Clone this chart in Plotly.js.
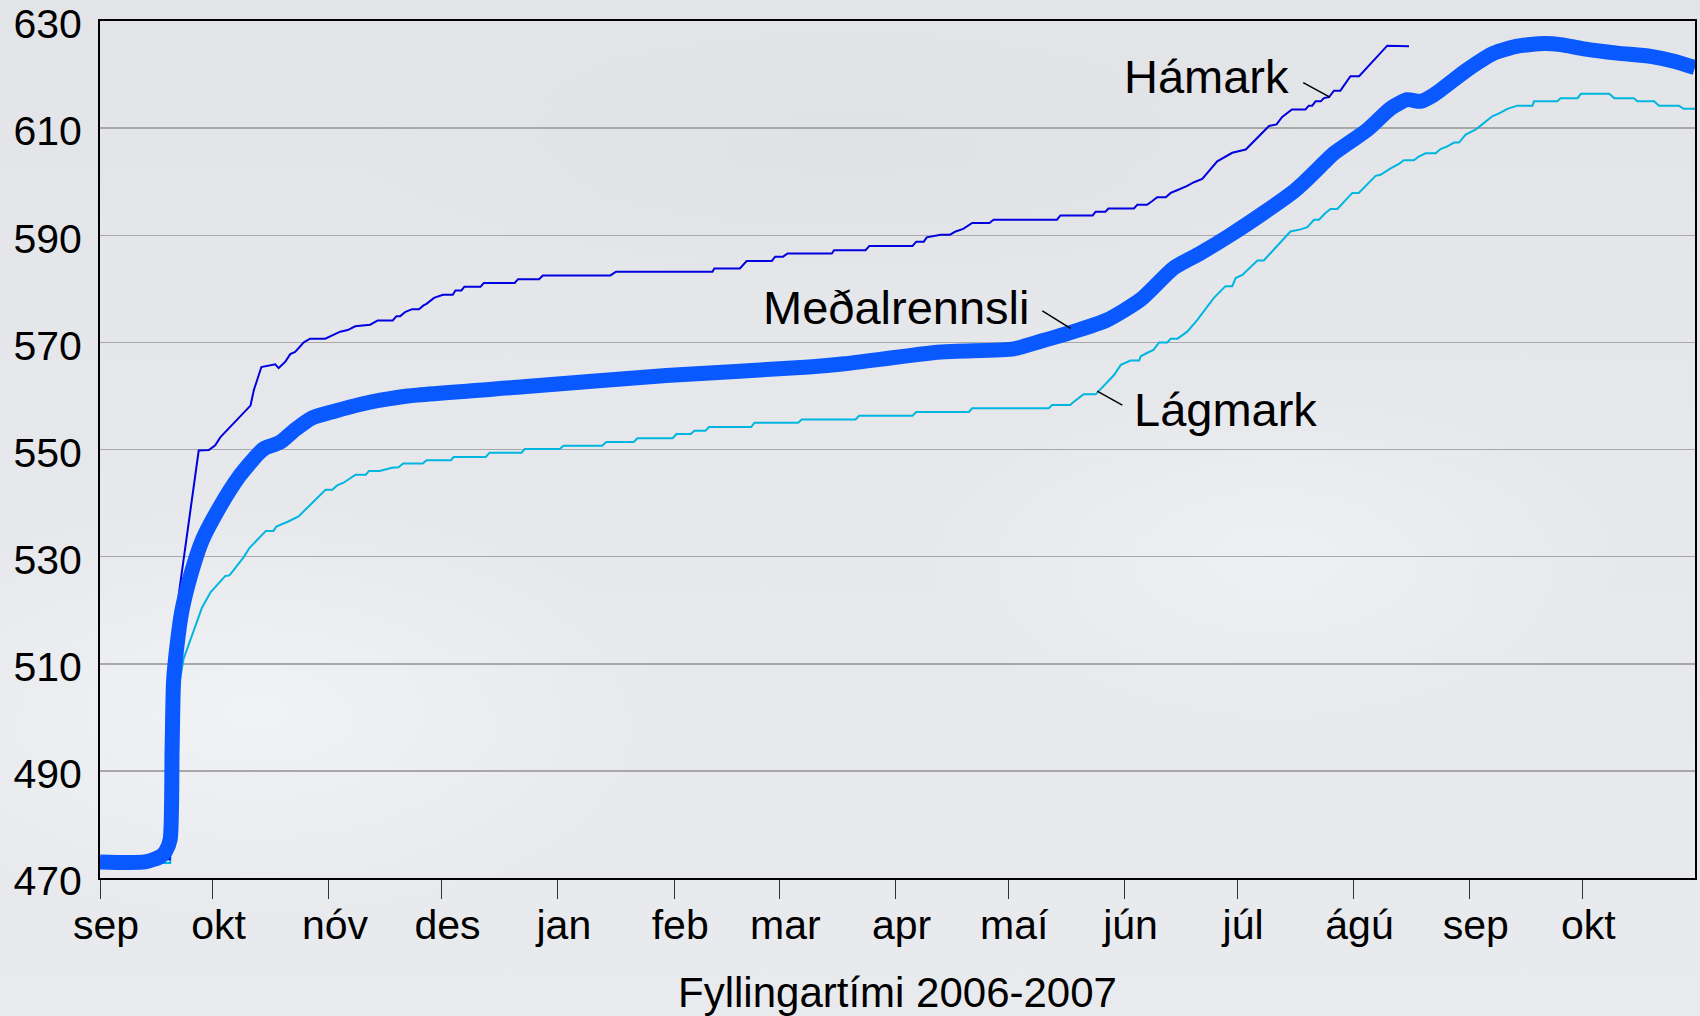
<!DOCTYPE html>
<html>
<head>
<meta charset="utf-8">
<script src="https://cdn.plot.ly/plotly-3.0.1.min.js"></script>
<style>
  html, body { margin: 0; padding: 0; }
  body {
    width: 1700px; height: 1016px; overflow: hidden;
    background:
      radial-gradient(ellipse 600px 300px at 15% 70%, rgba(245,246,248,0.7), rgba(245,246,248,0) 70%),
      radial-gradient(ellipse 500px 260px at 75% 55%, rgba(244,245,247,0.6), rgba(244,245,247,0) 70%),
      radial-gradient(ellipse 700px 200px at 50% 15%, rgba(222,223,227,0.6), rgba(222,223,227,0) 70%),
      linear-gradient(180deg, #e3e4e8 0%, #e7e8eb 50%, #e9eaed 100%);
  }
  #chart { width: 1700px; height: 1016px; }
</style>
</head>
<body>
<div id="chart"></div>
<script>
// ---- Data (days counted from 1 Sep 2006) ----
const seasonStart = Date.UTC(2006, 8, 1);

const monthTickDates = ['2006-09-01','2006-10-01','2006-11-01','2006-12-01','2007-01-01','2007-02-01',
  '2007-03-01','2007-04-01','2007-05-01','2007-06-01','2007-07-01','2007-08-01','2007-09-01','2007-10-01'];
const monthTickLabels = ['sep','okt','nóv','des','jan','feb','mar','apr','maí','jún','júl','ágú','sep','okt'];

const yTickValues = [470, 490, 510, 530, 550, 570, 590, 610, 630];

// Meðalrennsli (mean)
const meanDays = [0, 12, 16.1, 17.5, 18.7, 19.2, 19.6, 20.5, 21.8, 24.1, 27.2, 31.6, 36.9, 42.3, 44, 46.5, 48.5,
  52, 56.5, 62.7, 69.8, 74.7, 82, 112.8, 150.9, 188.9, 198.4, 224, 243.5, 250.6, 259.4, 268.4, 277.3, 286.1,
  293.3, 301.3, 310.1, 318.1, 321, 326.1, 328.8, 337.7, 343.9, 348.3, 351.9, 355.4, 364.3, 371.4, 377.7, 384.8,
  389.2, 395.4, 404.3, 413.2, 419.4, 425];
const meanLevel = [473, 473, 474, 475, 477.2, 493.6, 506.7, 513.3, 519.8, 526.4, 533, 538.9, 544.8, 549.3, 550.3, 550.9, 551.6,
  553.7, 555.9, 557.2, 558.5, 559.2, 560, 561.7, 563.8, 565.4, 566, 568.2, 568.8, 570.2, 572, 574.2, 578, 583.9,
  586.7, 590.1, 594.2, 598.2, 600, 603.5, 605.3, 609.7, 613.7, 615.3, 615, 616.2, 620.9, 624, 625.3, 625.8,
  625.6, 624.8, 624, 623.4, 622.5, 621.3];

// Hámark (maximum)
const maxDays = [0, 18.6, 19.5, 20.3, 21, 26.3, 29, 30.7, 32.1, 40.1, 41, 43, 46.7, 47.6, 49.4, 50.7, 52, 54.3, 56, 60,
  61.8, 64, 66, 68, 72, 74, 78, 79, 80, 81.4, 83.2, 85, 86.2, 87, 89, 91.4, 94, 94.7, 96.3, 97.1, 101.4, 102.3,
  110.5, 111.4, 117, 118, 136, 137.5, 163.2, 163.7, 170.5, 172.3, 179, 179.9, 182, 183.2, 195, 195.6, 204, 205,
  216.5, 217.5, 219.5, 220.3, 224, 226.5, 228, 230, 232.4, 237, 238.1, 255, 255.9, 264.5, 265.3, 267.9, 268.7,
  275.5, 276.4, 279, 280.4, 281.7, 284, 285.3, 287, 289.7, 291.5, 293.7, 297.7, 299.5, 301.7, 305.3, 308.5,
  311.5, 313.5, 315, 317.6, 321.2, 322.1, 323, 323.9, 325.3, 326.1, 327.5, 328.8, 330.5, 333.2, 335.5, 343, 348.8];
const maxLevel = [473.5, 473.5, 490, 510, 523, 549.8, 549.9, 550.8, 552.3, 558.2, 561.1, 565.4, 565.9, 565.2, 566.4, 567.8, 568.2, 570, 570.7, 570.7,
  571.3, 572, 572.3, 573, 573.3, 574.1, 574.1, 574.9, 574.9, 575.7, 576.2, 576.2, 576.9, 577.2, 578.3, 578.9, 578.9, 579.7, 579.7, 580.4, 580.4, 581.1,
  581.1, 581.8, 581.8, 582.5, 582.5, 583.2, 583.2, 583.8, 583.8, 585.2, 585.2, 586, 586, 586.6, 586.6, 587.2, 587.2, 588,
  588, 588.8, 588.8, 589.6, 590.1, 590.1, 590.7, 591.2, 592.3, 592.3, 592.9, 592.9, 593.7, 593.7, 594.4, 594.4, 595,
  595, 595.7, 595.7, 596.4, 597.1, 597.1, 597.9, 598.4, 599.2, 599.9, 600.5, 603.8, 604.5, 605.4, 606, 608.3,
  610.4, 610.7, 612.1, 613.5, 613.5, 614.2, 614.2, 615, 615, 615.6, 615.8, 617, 617, 619.7, 619.7, 625.4, 625.3];

// Lágmark (minimum)
const minDays = [0, 18.7, 19.8, 21.3, 22.3, 24.1, 27.2, 29.5, 33.4, 34.5, 38.4, 39.8, 44.2, 46.2, 47, 50.3, 52.9, 60.1,
  61.9, 63.2, 64.9, 68.1, 70.8, 71.7, 74.5, 77.8, 79.5, 80.8, 86, 87, 93.5, 94.2, 102.8, 103.8, 112.3, 113.2,
  122.5, 123.5, 133.8, 134.9, 142.2, 143.2, 152.6, 153.6, 157.4, 158.4, 161.3, 162.3, 173.5, 174.4, 186, 187,
  201.3, 202.3, 216.5, 217.5, 231.5, 232.4, 252.8, 253.7, 258.5, 259.5, 260.4, 262.1, 265.3, 270.2, 272, 274.6,
  276.9, 277.3, 279.5, 280.7, 282.2, 284.4, 285.3, 287.1, 289.7, 292.4, 296.8, 299.9, 301.7, 302.6, 304.4, 308.4,
  310.1, 317.2, 319.9, 321.7, 323.5, 324.8, 326.6, 327.9, 329.7, 333.7, 335.4, 339.9, 341.2, 342.1, 343.9, 346.1,
  347.4, 350.1, 351.4, 353.2, 355.9, 357.2, 359, 360.8, 362.1, 363.9, 366.5, 368.3, 371, 373.2, 375, 377.7, 381.7,
  382.1, 388.3, 389.2, 393.7, 394.6, 402.1, 403.5, 408.7, 409.6, 414.1, 415.4, 420.7, 422, 425];
const minLevel = [472.8, 472.8, 495, 507, 511, 514.6, 520.5, 523.4, 526.4, 526.5, 530, 531.6, 534.8, 534.8, 535.6, 536.6, 537.5, 542.5,
  542.5, 543.3, 543.8, 545.3, 545.3, 546, 546, 546.6, 546.7, 547.4, 547.4, 548, 548, 548.6, 548.6, 549.4, 549.4, 550.1,
  550.1, 550.7, 550.7, 551.4, 551.4, 552.1, 552.1, 552.9, 552.9, 553.5, 553.5, 554.2, 554.2, 555, 555, 555.6,
  555.6, 556.3, 556.3, 557, 557, 557.7, 557.7, 558.3, 558.3, 558.9, 559.4, 560.3, 560.3, 563.9, 565.8, 566.6,
  566.6, 567.4, 568.2, 568.6, 570, 570, 570.7, 570.7, 572, 574.2, 578.3, 580.5, 580.5, 582, 582.6, 585.3,
  585.3, 590.7, 591.1, 591.5, 592.9, 592.9, 594.2, 594.9, 594.9, 597.9, 597.9, 601.1, 601.3, 601.7, 602.5, 603.3,
  604, 604, 604.7, 605.3, 605.3, 606.1, 606.6, 607.3, 607.3, 608.8, 609.7, 610.7, 612.2, 612.9, 613.6, 614.2, 614.2,
  615, 615, 615.6, 615.6, 616.4, 616.4, 615.6, 615.6, 615, 615, 614.2, 614.2, 613.6, 613.6];

// Label text and leader-line anchor points (day, level)
const seriesNames = ['Hámark', 'Meðalrennsli', 'Lágmark'];
const labelAnchor = [[272.2, 619.7], [176.2, 576.6], [275.0, 557.4]];
const leaderLines = [[[320.6, 618.5], [327.7, 615.8]], [[251.1, 575.9], [258.6, 572.6]], [[265.7, 560.9], [272.4, 558.3]]];
const xAxisTitle = 'Fyllingartími 2006-2007';

// ---- Helpers ----
function dayToDate(d) {
  const t = new Date(seasonStart + d * 86400000);
  return t.toISOString().slice(0, 19).replace('T', ' ');
}

const FONT = '"Liberation Sans", Arial, Helvetica, sans-serif';

const traces = [
  { x: minDays.map(dayToDate), y: minLevel, mode: 'lines', name: 'Lágmark',
    line: { color: '#00b6e0', width: 2 }, hoverinfo: 'x+y' },
  { x: maxDays.map(dayToDate), y: maxLevel, mode: 'lines', name: 'Hámark',
    line: { color: '#0000e0', width: 2 }, hoverinfo: 'x+y' },
  { x: meanDays.map(dayToDate), y: meanLevel, mode: 'lines', name: 'Meðalrennsli',
    line: { color: '#0a58ff', width: 15, shape: 'spline', smoothing: 0.6 }, hoverinfo: 'x+y' }
];

const annotations = seriesNames.map((name, i) => ({
  x: dayToDate(labelAnchor[i][0]), y: labelAnchor[i][1], xref: 'x', yref: 'y',
  text: name, showarrow: false, xanchor: 'left', yanchor: 'middle',
  font: { family: FONT, size: 47, color: '#000000' }
}));

const shapes = leaderLines.map(seg => ({
  type: 'line', xref: 'x', yref: 'y',
  x0: dayToDate(seg[0][0]), y0: seg[0][1], x1: dayToDate(seg[1][0]), y1: seg[1][1],
  line: { color: '#000000', width: 1.5 }
}));

const layout = {
  width: 1700, height: 1016,
  margin: { l: 100, r: 5, t: 21, b: 138, pad: 0 },
  paper_bgcolor: 'rgba(0,0,0,0)',
  plot_bgcolor: 'rgba(0,0,0,0)',
  showlegend: false,
  font: { family: FONT, color: '#000000' },
  xaxis: {
    type: 'date',
    range: [dayToDate(0), dayToDate(425)],
    tickvals: monthTickDates,
    ticktext: monthTickLabels,
    ticks: 'outside', ticklen: 19, tickwidth: 1, tickcolor: '#333333',
    ticklabelshift: 6, ticklabelstandoff: -9,
    tickfont: { family: FONT, size: 41, color: '#000000' },
    showgrid: false, zeroline: false,
    showline: true, linecolor: '#000000', linewidth: 2, mirror: true,
    title: { text: xAxisTitle, font: { family: FONT, size: 42, color: '#000000' }, standoff: 33 },
    automargin: false, fixedrange: true
  },
  yaxis: {
    range: [470, 630],
    tickvals: yTickValues,
    ticks: '', ticklabelstandoff: 8, ticklabelshift: 3,
    ticklabeloverflow: 'allow',
    tickfont: { family: FONT, size: 41, color: '#000000' },
    showgrid: true, gridcolor: '#a8a8a8', gridwidth: 1.5,
    zeroline: false,
    showline: true, linecolor: '#000000', linewidth: 2, mirror: true,
    automargin: false, fixedrange: true
  },
  annotations: annotations,
  shapes: shapes
};

Plotly.newPlot('chart', traces, layout, { displayModeBar: false, staticPlot: true });
</script>
</body>
</html>
